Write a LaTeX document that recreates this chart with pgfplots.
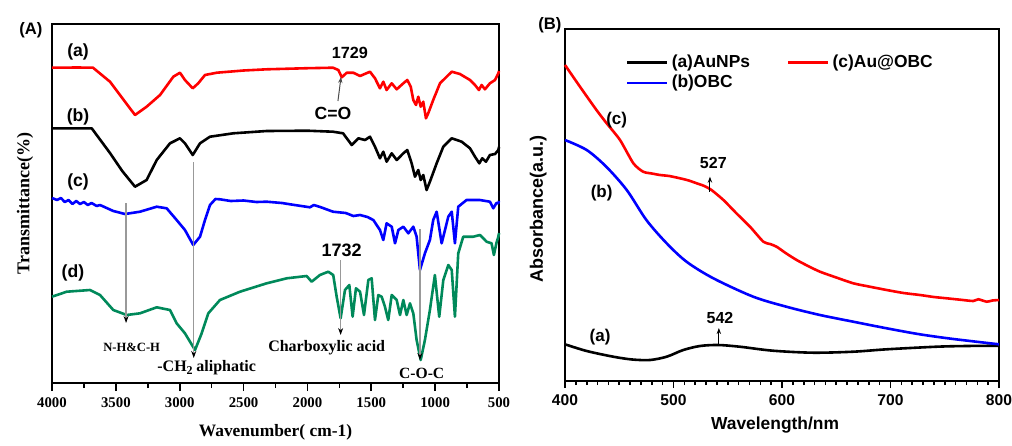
\documentclass[border=0pt]{standalone}
\usepackage{fontspec}
\setmainfont{Liberation Serif}
\newfontfamily\arial{Liberation Sans}
\usepackage{pgfplots}
\pgfplotsset{compat=1.18}
\usetikzlibrary{arrows.meta}
\definecolor{ftgreen}{HTML}{00895A}
\definecolor{guide}{gray}{0.6}
\newcommand{\fs}[1]{\fontsize{#1}{#1}\selectfont}

\begin{document}
\begin{tikzpicture}
\useasboundingbox (0,0) rectangle (506pt,-222.5pt);

% ---------------- (A) FTIR ----------------
\begin{axis}[
  at={(26pt,-191.5pt)}, anchor=south west,
  scale only axis, width=223.5pt, height=179.5pt,
  x dir=reverse, xmin=500, xmax=4000, ymin=0, ymax=359,
  xtick={500,1000,...,4000}, minor x tick num=1,
  ytick=\empty, tick pos=left, tick align=outside,
  major tick length=4pt, minor tick length=2.5pt,
  tick style={black, line width=0.8pt},
  axis line style={line width=1.1pt},
  scaled x ticks=false,
  /pgf/number format/assume math mode=true,
  /pgf/number format/1000 sep={},
  xticklabel style={font=\bfseries\fs{7.4}},
  xlabel={Wavenumber( cm-1)},
  xlabel style={font=\bfseries\fs{8.7}, at={(axis description cs:0.5,-0.1365)}, anchor=center},
  ylabel={Transmittance(\%)},
  ylabel style={font=\bfseries\fs{9}, at={(axis description cs:-0.0604,0.5)}, anchor=center},
  clip=false,
  every axis plot/.append style={line width=1.3pt, line join=round},
]
% (a)
\addplot[red] coordinates {
 (4000,315.3) (3800,315.5) (3679,315.3) (3546,301.3) (3450,285) (3350,268) (3259,276.3) (3154,288)
 (3050,306.3) (2998,310.3) (2959,303) (2898,294.7) (2855,299.7) (2802,308) (2710,310.3)
 (2500,312.5) (2319,313.7) (2000,314.8) (1800,315.3) (1758,313) (1731,305.7) (1692,310.3)
 (1641,310.3) (1588,307) (1510,311.3) (1471,304.7) (1432,294.7) (1406,301.3) (1380,293)
 (1340,299.7) (1301,293.7) (1249,299.7) (1218,303) (1191,296.3) (1171,283) (1150,278)
 (1132,286.3) (1113,276.3) (1093,281.3) (1072,264.7) (1054,269.7) (1015,283) (962,299.7)
 (870,311.3) (806,309) (727,303) (688,298) (657,293) (636,298) (610,293.7) (571,299.7)
 (531,303) (505,309.7) (500,312)
};
% (b)
\addplot[black] coordinates {
 (4000,254.7) (3689,254.7) (3546,230) (3450,212) (3350,196.3) (3259,203) (3180,223) (3076,239.7)
 (2998,244.7) (2959,239.7) (2898,228) (2841,239.7) (2763,246.3) (2580,249.7) (2319,252)
 (2000,252.3) (1800,251.3) (1721,249.7) (1653,238) (1601,244.7) (1549,243) (1510,246.3)
 (1471,236.3) (1432,224.7) (1406,231.3) (1380,221.3) (1340,229.7) (1301,223) (1249,229.7)
 (1218,233) (1184,219.7) (1158,206.3) (1132,213) (1113,203) (1093,208) (1067,193)
 (1041,201.3) (988,219.7) (936,236.3) (870,244.7) (792,241.3) (727,234.7) (688,226.3)
 (654,219.7) (631,224.7) (602,221.3) (571,228) (531,229) (505,233) (500,236)
};
% (c)
\addplot[blue] coordinates {
 (4000,185) (3960,183) (3930,185) (3900,181) (3870,183) (3840,179) (3810,182) (3781,179)
 (3750,181) (3720,178) (3690,180) (3650,177) (3624,178) (3520,172) (3428,169) (3311,171.3)
 (3180,176.3) (3102,174.7) (3024,163) (2959,153) (2894,138) (2841,146.3) (2802,163)
 (2763,178) (2720,184) (2685,183.7) (2600,182) (2500,182.5) (2400,181) (2319,181.3) (2200,180)
 (2100,178) (1980,175.7) (1950,178) (1900,176) (1800,171.3) (1700,170) (1640,167) (1588,168)
 (1530,166) (1484,163) (1432,153) (1406,143) (1380,159.7) (1340,156.3) (1314,139.7)
 (1288,153) (1249,156.3) (1210,149.7) (1171,156.3) (1145,146.3) (1119,113) (1080,129.7)
 (1041,143) (1015,163) (988,171.3) (949,139.7) (897,166.3) (870,171.3) (845,139.7)
 (819,176.3) (754,183) (650,183) (571,181.3) (545,174.7) (520,180) (505,179.7) (500,182)
};
% (d)
\addplot[ftgreen] coordinates {
 (4000,86.3) (3885,91.3) (3702,93) (3624,88) (3520,73) (3415,68) (3311,69.7) (3180,75.7)
 (3076,73) (3024,59.7) (2959,49.7) (2880,33) (2828,49.7) (2776,69.7) (2685,83) (2528,91.3)
 (2319,99.7) (2162,104.7) (2006,107) (1967,101.3) (1902,108) (1837,111.3) (1798,108)
 (1771,86.3) (1740,64.7) (1706,93) (1672,98) (1646,66.3) (1620,94.7) (1588,91.3) (1557,68)
 (1523,103) (1497,104.7) (1471,63) (1445,88) (1419,86.3) (1393,76.3) (1367,63) (1340,88)
 (1301,83) (1275,68) (1249,83) (1223,68) (1197,79.7) (1171,69.7) (1145,43) (1113,23)
 (1080,43) (1041,73) (1002,108) (968,66.3) (936,103) (897,118) (870,113) (845,66.3)
 (819,129.7) (780,146.3) (701,146.3) (649,148) (597,141.3) (558,139.7) (540,128) (520,140)
 (505,146.3) (500,150)
};
% guide lines
\draw[guide, line width=0.6pt, -{Stealth[length=3.5pt,width=2.5pt,black]}] (3420,180) -- (3420,60);
\draw[guide, line width=0.6pt, -{Stealth[length=3.5pt,width=2.5pt,black]}] (2890,221) -- (2890,25);
\draw[guide, line width=0.6pt, -{Stealth[length=3.5pt,width=2.5pt,black]}] (1740,123) -- (1740,48);
\draw[guide, line width=0.6pt, -{Stealth[length=3.5pt,width=2.5pt,black]}] (1119,154) -- (1119,23);
\draw[black!70, line width=0.5pt, -{Stealth[length=3pt,width=2.2pt]}] (1761,282) -- (1737,306);
% labels
\node[font=\arial\bfseries\fs{8.3}] at (axis description cs:-0.047,0.983) {(A)};
\node[font=\arial\bfseries\fs{8.8}] at (3796,331) {(a)};
\node[font=\arial\bfseries\fs{8.8}] at (3796,266) {(b)};
\node[font=\arial\bfseries\fs{8.8}] at (3796,201) {(c)};
\node[font=\arial\bfseries\fs{8.8}] at (3836,110) {(d)};
\node[font=\arial\bfseries\fs{8.1}] at (1667,330) {1729};
\node[font=\arial\bfseries\fs{8.8}] at (1800,270) {C=O};
\node[font=\arial\bfseries\fs{9}] at (1732,133) {1732};
\node[font=\bfseries\fs{6.3}] at (3376,36) {N-H\&C-H};
\node[font=\bfseries\fs{8}] at (2789,15) {-CH\textsubscript{2}\,aliphatic};
\node[font=\bfseries\fs{8}] at (1849,35) {Charboxylic acid};
\node[font=\bfseries\fs{7.8}] at (1105,10) {C-O-C};
\end{axis}

% ---------------- (B) UV-vis ----------------
\begin{axis}[
  at={(282.5pt,-190.5pt)}, anchor=south west,
  scale only axis, width=217pt, height=176pt,
  xmin=400, xmax=800, ymin=0, ymax=352,
  xtick={400,500,...,800}, minor x tick num=9,
  ytick=\empty, tick pos=left, tick align=outside,
  major tick length=3.5pt, minor tick length=2pt,
  tick style={black, line width=0.8pt},
  axis line style={line width=1.1pt},
  /pgf/number format/assume math mode=true,
  xticklabel style={font=\arial\bfseries\fs{7.8}},
  xlabel={Wavelength/nm},
  xlabel style={font=\arial\bfseries\fs{8.7}, at={(axis description cs:0.484,-0.125)}, anchor=center},
  ylabel={Absorbance(a.u.)},
  ylabel style={font=\arial\bfseries\fs{9}, at={(axis description cs:-0.062,0.49)}, anchor=center},
  clip=false,
  every axis plot/.append style={line width=1.3pt},
  legend cell align=left,
  transpose legend, legend columns=2,
  legend image code/.code={\draw[#1] (0pt,0pt) -- (20pt,0pt);},
  legend style={draw=none, fill=none, font=\arial\bfseries\fs{8.7},
    at={(axis description cs:0.14,0.935)}, anchor=north west,
    inner sep=0pt, nodes={inner xsep=1.5pt, inner ysep=1.2pt},
    /tikz/every even column/.append style={column sep=17pt}},
]
\addplot[black, smooth] coordinates {
 (400,36.7) (420,30) (444.5,24.3) (462,21.5) (478.3,21) (493.7,24.3) (509,31) (524.4,35)
 (541,36) (561,34.3) (591.6,30.3) (628.8,28.3) (665.7,29.3) (696.5,31.7) (742.6,34.3)
 (770,35) (800,35.3)
};
\addlegendentry{(a)AuNPs}
\addplot[blue, smooth] coordinates {
 (400,241) (420,231) (438,214.3) (456.9,191) (475,161) (493.7,137.7) (512,119.3)
 (536.7,102.7) (573.5,84.3) (604,74.3) (635,66) (665.7,59.3) (696.5,52.7) (727,46.7)
 (758,42) (800,36.7)
};
\addlegendentry{(b)OBC}
\addplot[red, smooth, tension=0.4] coordinates {
 (400,316) (413.8,294.3) (429,271) (438.4,257.7) (450.7,241) (463,217.7) (472,209.3)
 (480,207.5) (487.6,206) (496,205) (506,202.7) (514,200.5) (521.4,197.7) (528,195.2) (535,191)
 (546,181) (558,167.7) (570.5,154.3) (582.8,139.3) (589,137) (595,134.3) (604,127.5) (613.5,121)
 (624,115) (635,109.3) (650,103.5) (665.7,97.7) (680,94.5) (696.5,91) (712,88) (727.2,86)
 (740,84) (751.8,82.7) (765,81.2) (776.3,80) (781,81.7) (788.7,79.3) (794,80.5) (800,81)
};
\addlegendentry{(c)Au@OBC}
\draw[black, line width=0.5pt, -{Stealth[length=3pt,width=2.2pt]}] (533.6,189.3) -- (533.6,204.3);
\draw[black, line width=0.5pt, -{Stealth[length=3pt,width=2.2pt]}] (541.8,36) -- (541.8,53);
\node[font=\arial\bfseries\fs{8.3}] at (axis description cs:-0.0346,1.011) {(B)};
\node[font=\arial\bfseries\fs{8.5}] at (447.6,261) {(c)};
\node[font=\arial\bfseries\fs{8.5}] at (433.8,187.7) {(b)};
\node[font=\arial\bfseries\fs{8.5}] at (432.3,43.7) {(a)};
\node[font=\arial\bfseries\fs{8}] at (536.7,217.7) {527};
\node[font=\arial\bfseries\fs{8}] at (542.9,62.7) {542};
\end{axis}
\end{tikzpicture}
\end{document}
